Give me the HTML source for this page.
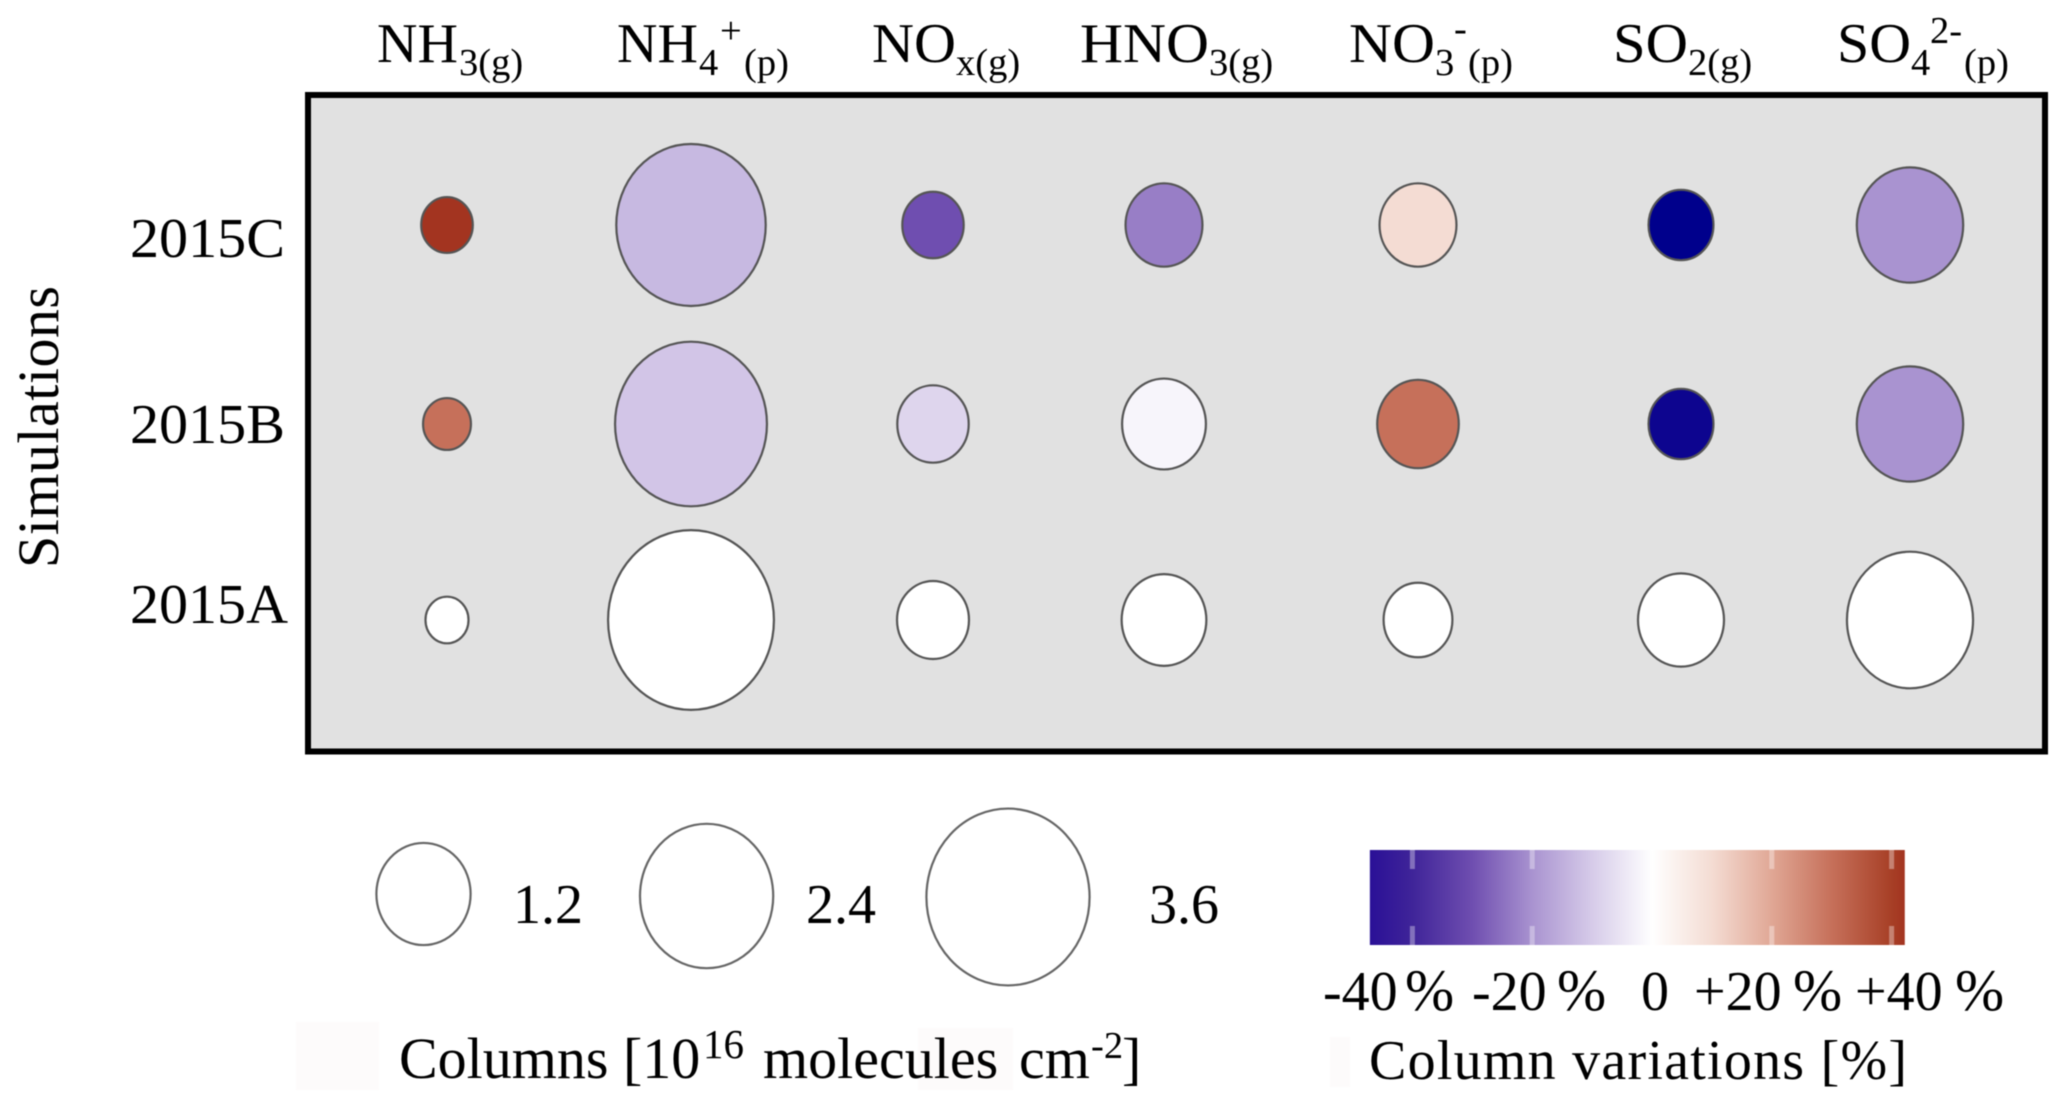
<!DOCTYPE html>
<html lang="en">
<head>
<meta charset="utf-8">
<title>Column variations bubble chart</title>
<style>
html,body{margin:0;padding:0;background:#fff;}
svg{display:block;filter:blur(0.5px);}
text{font-family:"Liberation Serif",serif;fill:#000;}
.big{font-size:56px;}
.small{font-size:38.5px;}
</style>
</head>
<body>
<svg id="chart" xmlns="http://www.w3.org/2000/svg" width="2067" height="1111" viewBox="0 0 2067 1111">
  <defs>
    <linearGradient id="scaleGradient" gradientUnits="userSpaceOnUse" x1="1368" x2="1905" y1="0" y2="0"></linearGradient>
  </defs>
  <rect width="2067" height="1111" fill="#fff"/>
  <rect x="308" y="95" width="1737" height="656.5" fill="#e1e1e1" stroke="#000" stroke-width="6"/>

  <g>
    <g><text class="big" x="377" y="62">NH</text><text class="small" x="459" y="75">3(g)</text></g>
    <g><text class="big" x="617" y="62">NH</text><text class="small" x="699" y="75">4</text><text class="small" x="720" y="43">+</text><text class="small" x="744" y="75">(p)</text></g>
    <g><text class="big" x="872" y="62" textLength="84" lengthAdjust="spacingAndGlyphs">NO</text><text class="small" x="956" y="75">x(g)</text></g>
    <g><text class="big" x="1080" y="62" textLength="129" lengthAdjust="spacingAndGlyphs">HNO</text><text class="small" x="1209" y="75">3(g)</text></g>
    <g><text class="big" x="1349" y="62" textLength="86" lengthAdjust="spacingAndGlyphs">NO</text><text class="small" x="1435" y="75">3</text><text class="small" x="1454" y="41">-</text><text class="small" x="1468" y="75">(p)</text></g>
    <g><text class="big" x="1613" y="62" textLength="75" lengthAdjust="spacingAndGlyphs">SO</text><text class="small" x="1688" y="75">2(g)</text></g>
    <g><text class="big" x="1837" y="62" textLength="74" lengthAdjust="spacingAndGlyphs">SO</text><text class="small" x="1911" y="75">4</text><text class="small" x="1930" y="43">2-</text><text class="small" x="1964" y="75">(p)</text></g>
  </g>

  <g>
    <text class="big" x="130" y="257" textLength="155" lengthAdjust="spacingAndGlyphs">2015C</text>
    <text class="big" x="130" y="443" textLength="155" lengthAdjust="spacingAndGlyphs">2015B</text>
    <text class="big" x="130" y="623" textLength="158" lengthAdjust="spacingAndGlyphs">2015A</text>
  </g>
  <text class="big" transform="translate(58,568) rotate(-90)" x="0" y="0" textLength="282" style="font-size:58px">Simulations</text>

  <g id="bubbles"></g>

  <g id="sizeLegend"></g>
  <g>
    <rect x="296" y="1022" width="83" height="68" fill="#fdfbfb"/>
    <rect x="918" y="1028" width="95" height="62" fill="#fdfbfb"/>
    <text class="big" x="399" y="1078" style="font-size:58px">Columns [10</text>
    <text class="small" x="703" y="1058" style="font-size:41px">16</text>
    <text class="big" x="763" y="1078" style="font-size:58px">molecules</text>
    <text class="big" x="1019" y="1078" style="font-size:58px">cm</text>
    <text class="small" x="1091" y="1058">-2</text>
    <text class="big" x="1122" y="1078" style="font-size:58px">]</text>
  </g>

  <g id="colorScale"></g>
  <g>
    <text class="big" x="1323" y="1010">-40</text><text class="big" x="1405" y="1010" style="font-size:59px">%</text>
    <text class="big" x="1472" y="1010">-20</text><text class="big" x="1557" y="1010" style="font-size:59px">%</text>
    <text class="big" x="1641" y="1010">0</text>
    <text class="big" x="1694" y="1010">+20</text><text class="big" x="1793" y="1010" style="font-size:59px">%</text>
    <text class="big" x="1855" y="1010">+40</text><text class="big" x="1955" y="1010" style="font-size:59px">%</text>
  </g>
  <rect x="1330" y="1037" width="20" height="50" fill="#fdfbfb"/>
  <text class="big" x="1369" y="1079" textLength="538">Column variations [%]</text>
</svg>

<script>
/* Data */
const species = ["NH3(g)", "NH4+(p)", "NOx(g)", "HNO3(g)", "NO3-(p)", "SO2(g)", "SO4 2-(p)"];
const simulations = ["2015C", "2015B", "2015A"];
const columns2015C = [0.36, 3.02, 0.51, 0.80, 0.80, 0.57, 1.53];
const columns2015B = [0.31, 3.12, 0.69, 0.95, 0.90, 0.57, 1.53];
const columns2015A = [0.25, 3.72, 0.70, 0.97, 0.64, 1.00, 2.15];
const variations2015C = [43, -13.3, -30, -23, 10, -60, -20];
const variations2015B = [30, -11, -8, -2, 30, -56, -20];
const variations2015A = [0, 0, 0, 0, 0, 0, 0];
const legendValues = [1.2, 2.4, 3.6];
const legendLabels = ["1.2", "2.4", "3.6"];
const colorStopValues = [-60, -47, -40, -30, -20, -10, 0, 10, 20, 30, 40, 43];
const colorStopHex = ["#00008c", "#2a1097", "#3f2499", "#6f4eb0", "#a993d0", "#d6cbe9", "#ffffff", "#f4dcd3", "#e0a795", "#c6705a", "#a73f26", "#a33420"];
const colorTicks = [-40, -20, 20, 40];

const SVG_NS = "http://www.w3.org/2000/svg";
const columnsByRow = [columns2015C, columns2015B, columns2015A];
const variationsByRow = [variations2015C, variations2015B, variations2015A];

/* Axis functions */
function xAxis(i) {
  const hand = [447, 691, 933, 1164, 1418, 1681, 1910];
  return hand[i];
}
function yAxis(i) {
  const hand = [225, 424, 620];
  return hand[i];
}
function radiusX(v) {
  return 43 * Math.sqrt(v);
}
function radiusY(v) {
  return 46.6 * Math.sqrt(v);
}
function colorScaleX(v) {
  return 1652 + 5.99 * v;
}
function hexToRgb(h) {
  return [1, 3, 5].map(function (p) { return parseInt(h.substr(p, 2), 16); });
}
function colorOf(v) {
  const n = colorStopValues.length;
  if (v <= colorStopValues[0]) return colorStopHex[0];
  if (v >= colorStopValues[n - 1]) return colorStopHex[n - 1];
  for (let k = 0; k < n - 1; k++) {
    const a = colorStopValues[k], b = colorStopValues[k + 1];
    if (v >= a && v <= b) {
      const t = (v - a) / (b - a);
      const c0 = hexToRgb(colorStopHex[k]), c1 = hexToRgb(colorStopHex[k + 1]);
      const mix = c0.map(function (c, j) { return Math.round(c + (c1[j] - c) * t); });
      return "rgb(" + mix.join(",") + ")";
    }
  }
  return "#fff";
}

/* Bubbles */
const bubbles = document.getElementById("bubbles");
simulations.forEach(function (sim, r) {
  species.forEach(function (sp, c) {
    const el = document.createElementNS(SVG_NS, "ellipse");
    el.setAttribute("cx", xAxis(c));
    el.setAttribute("cy", yAxis(r));
    el.setAttribute("rx", radiusX(columnsByRow[r][c]));
    el.setAttribute("ry", radiusY(columnsByRow[r][c]));
    el.setAttribute("fill", colorOf(variationsByRow[r][c]));
    el.setAttribute("stroke", "#555");
    el.setAttribute("stroke-width", "2.2");
    
    
    bubbles.appendChild(el);
  });
});

/* Size legend */
const sizeLegend = document.getElementById("sizeLegend");
function legendCx(i) { return [423.5, 706.6, 1008][i]; }
function legendCy(i) { return [894, 896, 897][i]; }
function legendTextX(i) { return [513, 806, 1149][i]; }
legendValues.forEach(function (v, i) {
  const el = document.createElementNS(SVG_NS, "ellipse");
  el.setAttribute("cx", legendCx(i));
  el.setAttribute("cy", legendCy(i));
  el.setAttribute("rx", radiusX(v));
  el.setAttribute("ry", radiusY(v));
  el.setAttribute("fill", "#fff");
  el.setAttribute("stroke", "#666");
  el.setAttribute("stroke-width", "2.2");
  
  
  sizeLegend.appendChild(el);
  const label = document.createElementNS(SVG_NS, "text");
  label.setAttribute("class", "big");
  label.setAttribute("x", legendTextX(i));
  label.setAttribute("y", 923);
  label.textContent = legendLabels[i];
  
  
  sizeLegend.appendChild(label);
});

/* Colour scale */
const gradient = document.getElementById("scaleGradient");
const barLeft = colorScaleX(-47.1), barRight = colorScaleX(42.2);
gradient.setAttribute("x1", barLeft);
gradient.setAttribute("x2", barRight);
colorStopValues.forEach(function (v, i) {
  const offset = (colorScaleX(v) - barLeft) / (barRight - barLeft);
  if (offset < 0) return;
  const stop = document.createElementNS(SVG_NS, "stop");
  stop.setAttribute("offset", Math.min(1, offset));
  stop.setAttribute("stop-color", colorStopHex[i]);
  gradient.appendChild(stop);
});
const colorScale = document.getElementById("colorScale");
const bar = document.createElementNS(SVG_NS, "rect");
bar.setAttribute("x", barLeft);
bar.setAttribute("y", 850);
bar.setAttribute("width", barRight - barLeft);
bar.setAttribute("height", 95);
bar.setAttribute("fill", "url(#scaleGradient)");


colorScale.appendChild(bar);
colorTicks.forEach(function (v) {
  [[850, 19], [926, 19]].forEach(function (seg) {
    const t = document.createElementNS(SVG_NS, "rect");
    t.setAttribute("x", colorScaleX(v) - 2.5);
    t.setAttribute("y", seg[0]);
    t.setAttribute("width", 5);
    t.setAttribute("height", seg[1]);
    t.setAttribute("fill", "rgba(255,255,255,0.35)");
    
    
    colorScale.appendChild(t);
  });
});
</script>
</body>
</html>
